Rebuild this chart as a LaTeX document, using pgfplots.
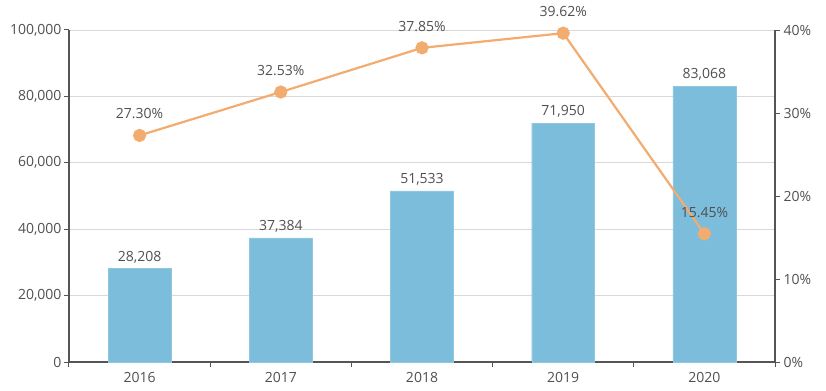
\documentclass[border=0pt]{standalone}
\usepackage{pgfplots}
\pgfplotsset{compat=1.18}
\usepackage{fontspec}
\setmainfont{Open Sans}
\usetikzlibrary{calc}
\definecolor{barblue}{HTML}{7CBDDB}
\definecolor{lineorange}{HTML}{F2AC6F}
\definecolor{txtgray}{HTML}{505050}
\definecolor{axgray}{HTML}{555555}
\definecolor{gridgray}{HTML}{D9D9D9}
\begin{document}
\begin{tikzpicture}[font=\fontsize{14bp}{16bp}\selectfont]
\begin{axis}[
  name=ax,
  scale only axis, width=706bp, height=332bp,
  xmin=-0.5, xmax=4.5, ymin=0, ymax=100000,
  axis y line*=left, axis x line*=bottom,
  axis line style={axgray, line width=1.2bp, -},
  xtick={0,1,2,3,4},
  xticklabels={2016,2017,2018,2019,2020},
  major x tick style={draw=none},
  minor xtick={-0.5,0.5,1.5,2.5,3.5,4.5},
  minor x tick style={axgray, line width=1bp},
  minor tick length=5bp,
  ytick={0,20000,40000,60000,80000,100000},
  major y tick style={axgray, line width=1bp},
  major tick length=5bp,
  tick align=outside,
  ymajorgrids, grid style={gridgray, line width=0.8bp},
  /pgf/number format/1000 sep={,},
  /pgf/number format/fixed,
  /pgf/number format/assume math mode=true,
  scaled y ticks=false,
  ticklabel style={text=txtgray},
  xticklabel style={yshift=-2bp},
  yticklabel style={xshift=1bp},
  nodes near coords,
  nodes near coords style={text=txtgray, yshift=2bp},
]
\addplot[ybar, bar width=0.446, fill=barblue, draw=barblue!85!white] coordinates {(0,28208) (1,37384) (2,51533) (3,71950) (4,83068)};
\end{axis}
\begin{axis}[
  scale only axis, width=706bp, height=332bp,
  xmin=-0.5, xmax=4.5, ymin=0, ymax=40,
  axis y line*=right, axis x line=none,
  axis line style={axgray, line width=1.2bp, -},
  ytick={0,10,20,30,40},
  yticklabel={\pgfmathprintnumber[assume math mode=true]{\tick}\%},
  major y tick style={axgray, line width=1bp},
  major tick length=5bp,
  tick align=outside,
  ticklabel style={text=txtgray},
  nodes near coords={\pgfmathprintnumber[fixed, fixed zerofill, precision=2, assume math mode=true]{\pgfplotspointmeta}\%},
  nodes near coords style={text=txtgray, yshift=12bp},
]
\addplot[lineorange, line width=2.2bp, mark=*, mark size=5.5bp, mark options={fill=lineorange, draw=lineorange}] coordinates {(0,27.30) (1,32.53) (2,37.85) (3,39.62) (4,15.45)};
\end{axis}
\pgfresetboundingbox
\path ($(ax.south west)+(-69bp,-28bp)$) rectangle ($(ax.north east)+(51bp,30bp)$);
\end{tikzpicture}
\end{document}
